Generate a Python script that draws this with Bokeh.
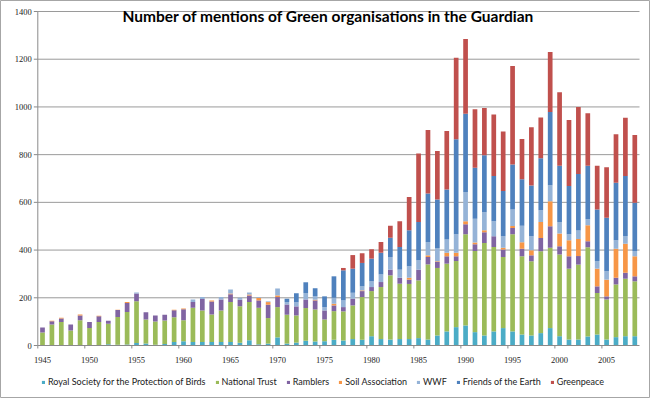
from bokeh.plotting import figure
from bokeh.models import Legend, LegendItem, Label, ColumnDataSource
from bokeh.embed import file_html
from bokeh.resources import INLINE

years = list(range(1945, 2009))

rspb = [2, 2, 2, 1, 2, 2, 2, 5, 3, 4, 11, 8, 3, 6, 15, 18, 15, 15, 15, 15,
        15, 12, 22, 5, 8, 34, 8, 12, 20, 17, 18, 24, 21, 27, 24, 39, 27, 25, 27, 27,
        31, 25, 42, 59, 77, 84, 56, 42, 59, 73, 59, 46, 42, 52, 73, 39, 25, 25, 38, 46,
        25, 35, 39, 39]
national_trust = [53, 86, 96, 62, 104, 71, 96, 86, 116, 136, 174, 101, 98, 99, 103, 88, 143, 132, 115, 132,
                  167, 152, 160, 153, 107, 127, 121, 114, 137, 134, 91, 120, 122, 141, 179, 189, 218, 269, 232, 231,
                  242, 315, 283, 284, 277, 382, 340, 388, 354, 298, 407, 328, 311, 343, 337, 342, 297, 314, 374, 174,
                  168, 221, 241, 230]
ramblers = [20, 14, 15, 25, 20, 25, 25, 13, 30, 38, 33, 30, 25, 24, 30, 46, 24, 48, 54, 46,
            33, 28, 28, 31, 56, 42, 43, 38, 36, 38, 38, 24, 18, 28, 25, 17, 21, 24, 25, 18,
            45, 31, 25, 31, 20, 42, 28, 45, 45, 31, 27, 32, 25, 56, 90, 35, 52, 36, 25, 28,
            13, 28, 25, 21]
soil_association = [0, 2, 3, 0, 4, 0, 2, 0, 1, 4, 0, 0, 0, 0, 2, 3, 0, 0, 5, 0,
                    3, 0, 4, 11, 11, 7, 0, 0, 0, 3, 0, 7, 0, 0, 3, 0, 0, 0, 0, 8,
                    0, 7, 3, 15, 15, 13, 8, 8, 0, 8, 8, 27, 21, 67, 105, 53, 67, 71, 67, 74,
                    70, 122, 122, 84]
wwf = [0, 0, 0, 0, 0, 0, 0, 0, 0, 0, 4, 0, 0, 0, 0, 0, 11, 8, 0, 10,
       17, 8, 8, 3, 3, 29, 10, 17, 27, 14, 14, 25, 28, 25, 17, 24, 32, 53, 34, 48,
       39, 56, 56, 55, 77, 122, 99, 76, 63, 48, 69, 69, 59, 49, 67, 49, 25, 36, 25, 32,
       36, 35, 32, 22]
friends_of_the_earth = [0] * 26 + [14, 38, 45, 34, 45, 90, 126, 101, 98, 95, 91, 81, 95, 151,
                                   161, 203, 203, 210, 398, 328, 214, 238, 189, 190, 189, 195, 213, 218, 307, 235, 203, 237, 224, 216,
                                   224, 241, 251, 202]
greenpeace = [0] * 32 + [10, 57, 41, 39, 45, 50, 108, 139,
                         287, 266, 203, 245, 342, 314, 245, 199, 258, 249, 413, 169, 244, 171, 251, 309, 276, 281, 220, 183,
                         211, 204, 245, 284]

series_names = ["Royal Society for the Protection of Birds", "National Trust", "Ramblers",
                "Soil Association", "WWF", "Friends of the Earth", "Greenpeace"]
series_keys = ["rspb", "nt", "ramblers", "soil", "wwf", "foe", "gp"]
colors = ["#4BACC6", "#9BBB59", "#8064A2", "#F79646", "#95B3D7", "#4F81BD", "#C0504D"]
x_tick_years = list(range(1945, 2009, 5))
x_tick_labels = [str(y) for y in x_tick_years]
y_ticks = list(range(0, 1401, 200))
y_tick_labels = [str(v) for v in y_ticks]

source = ColumnDataSource(data=dict(
    year=years, rspb=rspb, nt=national_trust, ramblers=ramblers, soil=soil_association,
    wwf=wwf, foe=friends_of_the_earth, gp=greenpeace))

FONT = "Lato"
AXIS_GRAY = "#8a8a8a"
GRID_GRAY = "#9a9a9a"
TEXT = "#222222"

W, H = 650, 398
# plot area in canvas pixels
LEFT, RIGHT, TOP, BOTTOM = 37.3, 639.0, 11.0, 345.0
X0, X1 = years[0] - 0.5, years[-1] + 0.5
Y_MAX = 1400
ux = (X1 - X0) / (RIGHT - LEFT)      # data units per px (x)
uy = Y_MAX / (BOTTOM - TOP)          # data units per px (y)

p = figure(width=W, height=H, output_backend="svg", toolbar_location=None,
           x_range=(X0 - LEFT * ux, X1 + (W - RIGHT) * ux),
           y_range=(-(H - BOTTOM) * uy, Y_MAX + TOP * uy),
           min_border=0)
p.xaxis.visible = False
p.yaxis.visible = False
p.xgrid.visible = False
p.ygrid.visible = False
p.outline_line_color = "#a6a6a6"
p.background_fill_color = "white"
p.border_fill_color = "white"

# horizontal gridlines
grid_vals = y_ticks[1:]
p.segment(x0=[X0] * len(grid_vals), y0=grid_vals, x1=[X1] * len(grid_vals), y1=grid_vals,
          line_color=GRID_GRAY, line_width=1)

renderers = p.vbar_stack(series_keys, x="year", width=0.5, source=source,
                         color=colors, line_color=None)

# value axis
p.segment(x0=[X0], y0=[0], x1=[X0], y1=[Y_MAX], line_color=AXIS_GRAY, line_width=1)
p.segment(x0=[X0 - 4 * ux] * len(y_ticks), y0=y_ticks, x1=[X0] * len(y_ticks), y1=y_ticks,
          line_color=AXIS_GRAY, line_width=1)
p.text(x=[X0 - 6 * ux] * len(y_ticks), y=y_ticks, text=y_tick_labels,
       text_align="right", text_baseline="middle",
       text_font=FONT, text_font_size="8.5px", text_color=TEXT)

# category axis
p.segment(x0=[X0], y0=[0], x1=[X1], y1=[0], line_color=AXIS_GRAY, line_width=1)
boundaries = [y - 0.5 for y in x_tick_years]
p.segment(x0=boundaries, y0=[0] * len(boundaries), x1=boundaries,
          y1=[-3 * uy] * len(boundaries), line_color=AXIS_GRAY, line_width=1)
p.text(x=x_tick_years, y=[0] * len(x_tick_years), text=x_tick_labels,
       y_offset=14, text_align="center", text_baseline="middle",
       text_font=FONT, text_font_size="8.5px", text_color=TEXT)

title = Label(x=1975.4, y=1382, text="Number of mentions of Green organisations in the Guardian",
              text_font=FONT, text_font_style="bold", text_font_size="15.5px",
              text_align="center", text_baseline="middle", text_color="#000000")
p.add_layout(title)

items = [LegendItem(label=n, renderers=[r]) for n, r in zip(series_names, renderers)]
legend = Legend(items=items, orientation="horizontal", location=(41, 11),
                glyph_width=4, glyph_height=4, label_standoff=3, spacing=9,
                padding=0, margin=0, border_line_color=None, background_fill_alpha=0,
                label_text_font=FONT, label_text_font_size="9px", label_text_color=TEXT,
                label_height=9)
p.add_layout(legend, "center")

open("out.html", "w").write(file_html(p, INLINE))
